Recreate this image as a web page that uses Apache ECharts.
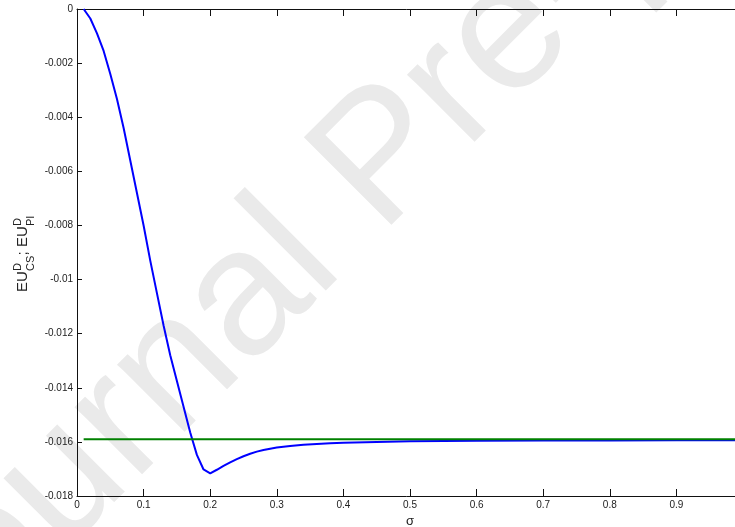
<!DOCTYPE html>
<html><head><meta charset="utf-8">
<script src="https://cdn.jsdelivr.net/npm/echarts@6/dist/echarts.min.js"></script>
<style>html,body{margin:0;padding:0;background:#fff}#c{width:735px;height:527px}</style>
</head><body><div id="c"></div>
<script>
// sigma values and EU^D_CS (blue curve)
const sigma = [0.01,0.02,0.03,0.04,0.05,0.06,0.07,0.08,0.09,0.10,
  0.11,0.12,0.13,0.14,0.15,0.16,0.17,0.18,0.19,0.20,
  0.21,0.22,0.23,0.24,0.25,0.26,0.27,0.28,0.29,0.30,
  0.32,0.34,0.36,0.38,0.40,0.45,0.50,0.55,0.60,0.70,0.80,0.90,1.00];
const euCS = [0,-0.00035,-0.00090,-0.00155,-0.00240,-0.00333,-0.00440,-0.00560,-0.00680,-0.00800,
  -0.00930,-0.01050,-0.01170,-0.01280,-0.01375,-0.01470,-0.01565,-0.01648,-0.01702,-0.01716,
  -0.01703,-0.01689,-0.01676,-0.01664,-0.01653,-0.01644,-0.01636,-0.01630,-0.01625,-0.01621,
  -0.01615,-0.01611,-0.01608,-0.01605,-0.01603,-0.01600,-0.01598,-0.01597,-0.01596,-0.01595,-0.01595,-0.01594,-0.01594];
// EU^D_PI (green constant line)
const sigmaPI = [0.01, 1.00];
const euPI = [-0.0159, -0.0159];
// tick labels
const xTickLabels = ['0','0.1','0.2','0.3','0.4','0.5','0.6','0.7','0.8','0.9'];
const yTickLabels = ['-0.018','-0.016','-0.014','-0.012','-0.01','-0.008','-0.006','-0.004','-0.002','0'];

const FONT = '"Liberation Sans", Arial, Helvetica, sans-serif';
const TXT = '#222';
const chart = echarts.init(document.getElementById('c'), null, {renderer: 'canvas'});
const axisLineStyle = {color: '#111', width: 1};
const t = (text, x, y, size) => ({type: 'text', x, y,
  style: {text, font: size + 'px ' + FONT, fill: TXT, align: 'left', verticalAlign: 'middle'}});
chart.setOption({
  animation: false,
  backgroundColor: '#fff',
  grid: {left: 77, top: 9, width: 666, height: 487, containLabel: false, outerBoundsMode: 'none'},
  xAxis: [{
    type: 'value', min: 0, max: 1, interval: 0.1, position: 'bottom',
    axisLine: {show: true, onZero: false, lineStyle: axisLineStyle},
    axisTick: {show: true, inside: true, length: 7, lineStyle: axisLineStyle},
    splitLine: {show: false},
    axisLabel: {margin: 4, fontSize: 10, fontFamily: FONT, color: TXT,
      formatter: v => { const i = Math.round(v / 0.1); return i < xTickLabels.length ? xTickLabels[i] : ''; }},
    name: 'σ', nameLocation: 'middle', nameGap: 16,
    nameTextStyle: {fontSize: 13, fontFamily: FONT, color: TXT}
  }, {
    type: 'value', min: 0, max: 1, interval: 0.1, position: 'top',
    axisLine: {show: true, onZero: false, lineStyle: axisLineStyle},
    axisTick: {show: true, inside: true, length: 7, lineStyle: axisLineStyle},
    axisLabel: {show: false}, splitLine: {show: false}
  }],
  yAxis: {
    type: 'value', min: -0.018, max: 0, interval: 0.002,
    axisLine: {show: true, onZero: false, lineStyle: axisLineStyle},
    axisTick: {show: true, inside: true, length: 5, lineStyle: axisLineStyle},
    splitLine: {show: false},
    axisLabel: {margin: 4, fontSize: 10, fontFamily: FONT, color: TXT,
      formatter: v => yTickLabels[Math.round((v + 0.018) / 0.002)] || ''}
  },
  series: [{
    type: 'line', name: 'CS', data: sigma.map((s, i) => [s, euCS[i]]),
    showSymbol: false, symbol: 'none', lineStyle: {color: '#0000ff', width: 2}, z: 3
  }, {
    type: 'line', name: 'PI', data: sigmaPI.map((s, i) => [s, euPI[i]]),
    showSymbol: false, symbol: 'none', lineStyle: {color: '#008000', width: 2}, z: 4
  }],
  graphic: [{
    type: 'text', x: -107, y: 653, rotation: Math.PI / 4, z: -10, silent: true,
    style: {text: 'Journal Pre-proof', font: '180px ' + FONT, fill: '#eaeaea', align: 'left', verticalAlign: 'middle'}
  }, {
    type: 'group', x: 28.6, y: 292, rotation: Math.PI / 2, z: 10,
    children: [
      t('EU', 0, -5.4, 15),
      t('D', 21, -10.6, 11),
      t('CS', 21, 2.6, 11),
      t(';', 36.5, -5.4, 15),
      t('EU', 45, -5.4, 15),
      t('D', 66, -10.6, 11),
      t('PI', 66, 2.6, 11)
    ]
  }]
});
</script>
</body></html>
